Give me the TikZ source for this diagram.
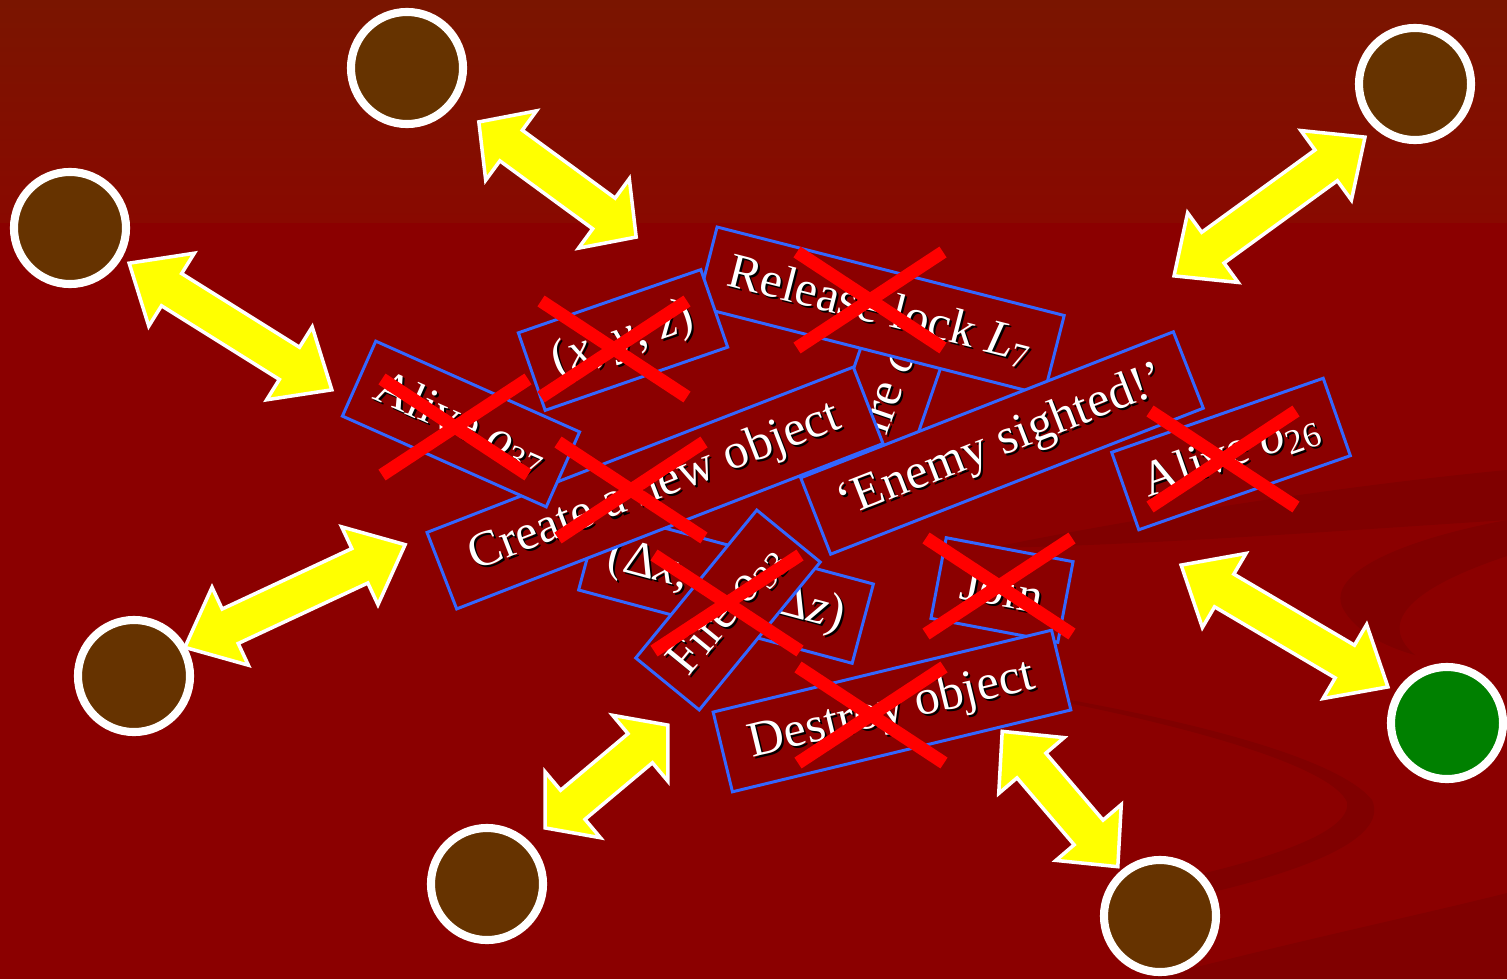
\documentclass[tikz,border=0pt]{standalone}
\usepackage{fontspec}
\setmainfont{Liberation Serif}

\definecolor{bgred}{RGB}{139,0,0}
\definecolor{swirl}{RGB}{128,0,0}
\definecolor{bandtop}{RGB}{122,21,0}
\definecolor{bandbot}{RGB}{137,9,0}
\definecolor{boxblue}{RGB}{51,102,255}
\definecolor{ballbrown}{RGB}{102,51,0}
\definecolor{ballgreen}{RGB}{0,128,0}
\definecolor{arrowyellow}{RGB}{255,255,0}
\definecolor{crossred}{RGB}{255,0,0}

% message box: name, centre, angle, width, text
\newcommand{\sendmsg}[5]{%
	\node[msgbox, rotate=#3, minimum width=#4] (#1) at (#2) {};
	\path (#2) ++(2,2) node[msgtext, text=black, rotate=#3] (#1-s) {#5};
	\node[msgtext, rotate=#3] (#1-t) at (#2) {#5};
}

\begin{document}
\begin{tikzpicture}[x=0.01cm, y=-0.01cm,
	every node/.style={font=\fontsize{14.2}{17}\selectfont},
	msgbox/.style={draw=boxblue, fill=bgred, line width=0.85pt, minimum height=0.82cm, inner sep=0pt},
	msgtext/.style={text=white, inner sep=0pt},
	ball/.style={circle, draw=white, line width=2.3pt, minimum size=1.12cm, inner sep=0pt},
	xmark/.style={crossred, line width=3.7pt},
	pics/cross/.style={code={\draw[xmark] (-73,-48) -- (73,48) (-73,48) -- (73,-48);}},
	pics/yarrow/.style 2 args={code={\filldraw[fill=arrowyellow, draw=white, line width=1pt]
		(-#1/2,0) -- (-#1/2+#2,-43) -- (-#1/2+#2,-19) -- (#1/2-#2,-19) -- (#1/2-#2,-43) -- (#1/2,0)
		-- (#1/2-#2,43) -- (#1/2-#2,19) -- (-#1/2+#2,19) -- (-#1/2+#2,43) -- cycle;}}]
	\useasboundingbox (0,0) rectangle (1507,979);
	% background
	\fill[bgred] (0,0) rectangle (1507,979);
	\shade[top color=bandtop, bottom color=bandbot] (0,0) rectangle (1507,222);
	\fill[swirl] (990,548) .. controls (1150,515) and (1350,485) .. (1507,470) -- (1507,520) .. controls (1350,530) and (1150,545) .. (990,548) -- cycle;
	\fill[swirl] (1507,520) .. controls (1400,540) and (1320,575) .. (1345,612) .. controls (1360,635) and (1390,648) .. (1415,655) .. controls (1385,630) and (1390,595) .. (1507,556) -- cycle;
	\fill[swirl] (1000,688) .. controls (1200,720) and (1340,760) .. (1372,800) .. controls (1390,840) and (1300,880) .. (1100,915) -- (1100,895) .. controls (1280,862) and (1352,830) .. (1347,802) .. controls (1332,768) and (1200,726) .. (1000,690) -- cycle;
	\fill[swirl] (1150,979) .. controls (1300,940) and (1420,915) .. (1507,893) -- (1507,979) -- cycle;
	% players
	\node[ball, fill=ballbrown] (c1) at (407,68) {};
	\node[ball, fill=ballbrown] (c2) at (1415,84) {};
	\node[ball, fill=ballbrown] (c3) at (70,228) {};
	\node[ball, fill=ballbrown] (c4) at (134,676) {};
	\node[ball, fill=ballbrown] (c5) at (487,884) {};
	\node[ball, fill=ballbrown] (c6) at (1160,916) {};
	\node[ball, fill=ballgreen] (c7) at (1447,723) {};
	% traffic
	\pic[rotate=-36.2] (a1) at (557.5,179.5) {yarrow={195}{40}};
	\pic[rotate=36] (a2) at (1269.5,206.5) {yarrow={236}{48}};
	\pic[rotate=-32] (a3) at (230.5,326.5) {yarrow={239}{50}};
	\pic[rotate=25] (a4) at (295,596) {yarrow={243}{50}};
	\pic[rotate=40] (a5) at (606.5,776.5) {yarrow={160}{36}};
	\pic[rotate=-49.5] (a6) at (1060,799) {yarrow={178}{45}};
	\pic[rotate=-30.5] (a7) at (1284.5,626) {yarrow={240}{50}};
	% messages
	\sendmsg{join}{1002,590}{-10.7}{1.29cm}{Join}
	\sendmsg{destroy}{892,711}{13.6}{3.48cm}{Destroy object}
	\sendmsg{delta}{726,587}{-15}{2.83cm}{(Δ\textit{x}, Δ\textit{y}, Δ\textit{z})}
	\sendmsg{fire}{728,610}{50.7}{1.91cm}{Fire \textit{o}\textsubscript{33}}
	\sendmsg{fireb}{891,386}{71}{1.95cm}{Fire \textit{o}\textsubscript{14}}
	\sendmsg{create}{655,488}{21.2}{4.57cm}{Create a new object}
	\sendmsg{alivea}{461,424}{-24}{2.23cm}{Alive \textit{o}\textsubscript{37}}
	\sendmsg{release}{880.5,311}{-14.3}{3.58cm}{Release lock \textit{L}\textsubscript{7}}
	\sendmsg{pos}{623,340}{19.1}{1.93cm}{(\textit{x}, \textit{y}, \textit{z})}
	\sendmsg{enemy}{1002,443}{21.4}{4.00cm}{‘Enemy sighted!’}
	\sendmsg{aliveb}{1231,454}{19.3}{2.24cm}{Alive \textit{o}\textsubscript{26}}
	% dropped messages
	\pic (x1) at (455,427) {cross};
	\pic (x2) at (614,349) {cross};
	\pic (x3) at (870,300) {cross};
	\pic (x4) at (631,490) {cross};
	\pic (x5) at (727,603) {cross};
	\pic (x6) at (1223,459) {cross};
	\pic (x7) at (999,586) {cross};
	\pic (x8) at (871,715) {cross};
\end{tikzpicture}
\end{document}
